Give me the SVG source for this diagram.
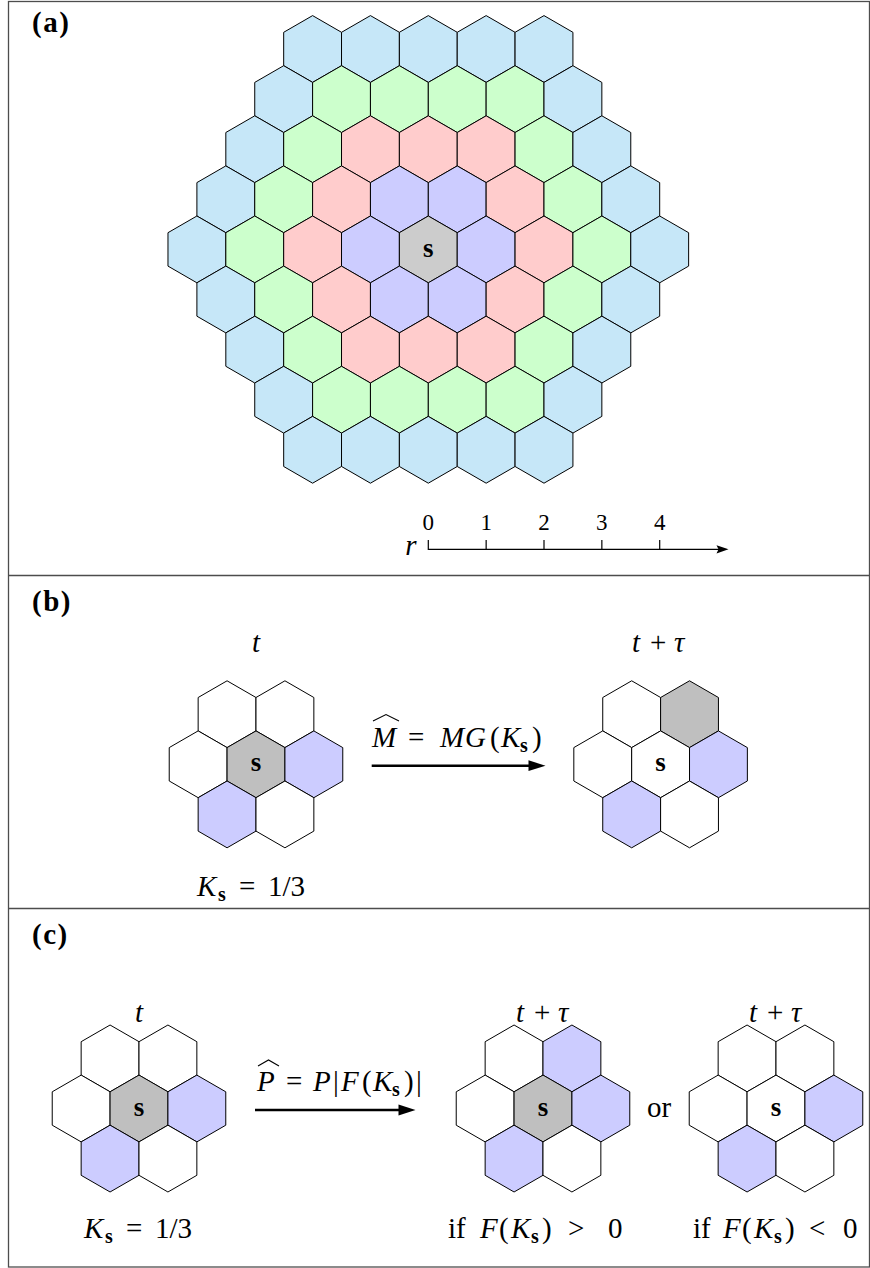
<svg xmlns="http://www.w3.org/2000/svg" width="870" height="1268" viewBox="0 0 870 1268">
<style>
.r4{fill:#c6e7f8}.r3{fill:#ccffcc}.r2{fill:#ffcccc}.r1{fill:#ccccff}.r0{fill:#cccccc}
.w{fill:#ffffff}.g{fill:#bfbfbf}.b{fill:#ccccff}
.frame{fill:none;stroke:#4d4d4d;stroke-width:1.3}
.lab{font-family:"Liberation Serif",serif;font-weight:bold;font-size:29px;letter-spacing:1.5px}
.m{font-family:"Liberation Serif",serif;font-style:italic;font-size:29px;fill:#000}
.rm{font-style:normal}
.sb{font-weight:bold;font-style:normal;font-size:20px}
.s{font-family:"Liberation Serif",serif;font-weight:bold;font-size:27px;text-anchor:middle}
.ax{font-family:"Liberation Serif",serif;font-size:23px;text-anchor:middle}
.hat{fill:none;stroke:#000;stroke-width:1.1}
.thin{stroke:#000;stroke-width:1.2;fill:none}
.thick{stroke:#000;stroke-width:2.6;fill:none}
</style>
<defs>
<polygon id="hx" points="0,-33.4 28.925,-16.7 28.925,16.7 0,33.4 -28.925,16.7 -28.925,-16.7" stroke="#000" stroke-width="1" stroke-linejoin="round"/>
</defs>
<rect class="frame" x="8.5" y="1.5" width="861" height="1265.5"/>
<line class="frame" x1="8.5" y1="575.5" x2="869.5" y2="575.5"/>
<line class="frame" x1="8.5" y1="908.5" x2="869.5" y2="908.5"/>

<g id="panel-a">
<text class="lab" x="32" y="32">(a)</text>
<g id="grid">
<g id="row-4">
<use href="#hx" x="312.6" y="49" class="r4"/><use href="#hx" x="370.45" y="49" class="r4"/><use href="#hx" x="428.3" y="49" class="r4"/><use href="#hx" x="486.15" y="49" class="r4"/><use href="#hx" x="544" y="49" class="r4"/>
</g>
<g id="row-3">
<use href="#hx" x="283.675" y="99.1" class="r4"/><use href="#hx" x="341.525" y="99.1" class="r3"/><use href="#hx" x="399.375" y="99.1" class="r3"/><use href="#hx" x="457.225" y="99.1" class="r3"/><use href="#hx" x="515.075" y="99.1" class="r3"/><use href="#hx" x="572.925" y="99.1" class="r4"/>
</g>
<g id="row-2">
<use href="#hx" x="254.75" y="149.2" class="r4"/><use href="#hx" x="312.6" y="149.2" class="r3"/><use href="#hx" x="370.45" y="149.2" class="r2"/><use href="#hx" x="428.3" y="149.2" class="r2"/><use href="#hx" x="486.15" y="149.2" class="r2"/><use href="#hx" x="544" y="149.2" class="r3"/><use href="#hx" x="601.85" y="149.2" class="r4"/>
</g>
<g id="row-1">
<use href="#hx" x="225.825" y="199.3" class="r4"/><use href="#hx" x="283.675" y="199.3" class="r3"/><use href="#hx" x="341.525" y="199.3" class="r2"/><use href="#hx" x="399.375" y="199.3" class="r1"/><use href="#hx" x="457.225" y="199.3" class="r1"/><use href="#hx" x="515.075" y="199.3" class="r2"/><use href="#hx" x="572.925" y="199.3" class="r3"/><use href="#hx" x="630.775" y="199.3" class="r4"/>
</g>
<g id="row0">
<use href="#hx" x="196.9" y="249.4" class="r4"/><use href="#hx" x="254.75" y="249.4" class="r3"/><use href="#hx" x="312.6" y="249.4" class="r2"/><use href="#hx" x="370.45" y="249.4" class="r1"/><use href="#hx" x="428.3" y="249.4" class="r0"/><use href="#hx" x="486.15" y="249.4" class="r1"/><use href="#hx" x="544" y="249.4" class="r2"/><use href="#hx" x="601.85" y="249.4" class="r3"/><use href="#hx" x="659.7" y="249.4" class="r4"/>
</g>
<g id="row1">
<use href="#hx" x="225.825" y="299.5" class="r4"/><use href="#hx" x="283.675" y="299.5" class="r3"/><use href="#hx" x="341.525" y="299.5" class="r2"/><use href="#hx" x="399.375" y="299.5" class="r1"/><use href="#hx" x="457.225" y="299.5" class="r1"/><use href="#hx" x="515.075" y="299.5" class="r2"/><use href="#hx" x="572.925" y="299.5" class="r3"/><use href="#hx" x="630.775" y="299.5" class="r4"/>
</g>
<g id="row2">
<use href="#hx" x="254.75" y="349.6" class="r4"/><use href="#hx" x="312.6" y="349.6" class="r3"/><use href="#hx" x="370.45" y="349.6" class="r2"/><use href="#hx" x="428.3" y="349.6" class="r2"/><use href="#hx" x="486.15" y="349.6" class="r2"/><use href="#hx" x="544" y="349.6" class="r3"/><use href="#hx" x="601.85" y="349.6" class="r4"/>
</g>
<g id="row3">
<use href="#hx" x="283.675" y="399.7" class="r4"/><use href="#hx" x="341.525" y="399.7" class="r3"/><use href="#hx" x="399.375" y="399.7" class="r3"/><use href="#hx" x="457.225" y="399.7" class="r3"/><use href="#hx" x="515.075" y="399.7" class="r3"/><use href="#hx" x="572.925" y="399.7" class="r4"/>
</g>
<g id="row4">
<use href="#hx" x="312.6" y="449.8" class="r4"/><use href="#hx" x="370.45" y="449.8" class="r4"/><use href="#hx" x="428.3" y="449.8" class="r4"/><use href="#hx" x="486.15" y="449.8" class="r4"/><use href="#hx" x="544" y="449.8" class="r4"/>
</g>
<text class="s" x="428.3" y="256.5">s</text>
</g>
<g id="axis">
<line class="thin" x1="428.3" y1="549.3" x2="720" y2="549.3"/>
<polygon points="728.5,549.3 716.5,545.2 718.5,549.3 716.5,553.4" fill="#000"/>
<line class="thin" x1="428.3" y1="540" x2="428.3" y2="549.9"/>
<line class="thin" x1="486.15" y1="540" x2="486.15" y2="549.3"/>
<line class="thin" x1="544" y1="540" x2="544" y2="549.3"/>
<line class="thin" x1="601.85" y1="540" x2="601.85" y2="549.3"/>
<line class="thin" x1="659.7" y1="540" x2="659.7" y2="549.3"/>
<text class="ax" x="428.3" y="530">0</text>
<text class="ax" x="486.15" y="530">1</text>
<text class="ax" x="544" y="530">2</text>
<text class="ax" x="601.85" y="530">3</text>
<text class="ax" x="659.7" y="530">4</text>
<text class="m" x="411" y="555" text-anchor="middle" font-size="27">r</text>
</g>
</g>

<g id="panel-b">
<text class="lab" x="32" y="611">(b)</text>
<g id="b-left" transform="translate(256,764.3)">
<use href="#hx" x="-28.925" y="-50.1" class="w"/><use href="#hx" x="28.925" y="-50.1" class="w"/>
<use href="#hx" x="-57.85" y="0" class="w"/><use href="#hx" x="0" y="0" class="g"/><use href="#hx" x="57.85" y="0" class="b"/>
<use href="#hx" x="-28.925" y="50.1" class="b"/><use href="#hx" x="28.925" y="50.1" class="w"/>
<text class="s" x="0" y="7">s</text>
</g>
<g id="b-right" transform="translate(660.6,764.3)">
<use href="#hx" x="-28.925" y="-50.1" class="w"/><use href="#hx" x="28.925" y="-50.1" class="g"/>
<use href="#hx" x="-57.85" y="0" class="w"/><use href="#hx" x="0" y="0" class="w"/><use href="#hx" x="57.85" y="0" class="b"/>
<use href="#hx" x="-28.925" y="50.1" class="b"/><use href="#hx" x="28.925" y="50.1" class="w"/>
<text class="s" x="0" y="7">s</text>
</g>
<text class="m" x="256" y="652" text-anchor="middle">t</text>
<text class="m" y="652"><tspan x="632">t</tspan><tspan class="rm" x="650">+</tspan><tspan x="674">τ</tspan></text>
<text class="m" y="896"><tspan x="197">K</tspan><tspan class="sb" x="218" dy="5">s</tspan><tspan class="rm" x="239" dy="-5">=</tspan><tspan class="rm" x="268">1/3</tspan></text>
<g id="b-arrow">
<line class="thick" x1="371.7" y1="765.7" x2="532" y2="765.7"/>
<polygon points="545.5,765.7 528.5,760.3 528.5,771.1" fill="#000"/>
</g>
<text class="m" y="747"><tspan x="372">M</tspan><tspan class="rm" x="408">=</tspan><tspan x="440">M</tspan><tspan x="465">G</tspan><tspan class="rm" x="490">(</tspan><tspan x="501">K</tspan><tspan class="sb" x="520" dy="5">s</tspan><tspan class="rm" x="532" dy="-5">)</tspan></text>
<polyline class="hat" points="373,721 386,714.5 399,721"/>
</g>

<g id="panel-c">
<text class="lab" x="32" y="944">(c)</text>
<g id="c-left" transform="translate(139,1108.5)">
<use href="#hx" x="-28.925" y="-50.1" class="w"/><use href="#hx" x="28.925" y="-50.1" class="w"/>
<use href="#hx" x="-57.85" y="0" class="w"/><use href="#hx" x="0" y="0" class="g"/><use href="#hx" x="57.85" y="0" class="b"/>
<use href="#hx" x="-28.925" y="50.1" class="b"/><use href="#hx" x="28.925" y="50.1" class="w"/>
<text class="s" x="0" y="7">s</text>
</g>
<g id="c-mid" transform="translate(543,1108.5)">
<use href="#hx" x="-28.925" y="-50.1" class="w"/><use href="#hx" x="28.925" y="-50.1" class="b"/>
<use href="#hx" x="-57.85" y="0" class="w"/><use href="#hx" x="0" y="0" class="g"/><use href="#hx" x="57.85" y="0" class="b"/>
<use href="#hx" x="-28.925" y="50.1" class="b"/><use href="#hx" x="28.925" y="50.1" class="w"/>
<text class="s" x="0" y="7">s</text>
</g>
<g id="c-right" transform="translate(776,1108.5)">
<use href="#hx" x="-28.925" y="-50.1" class="w"/><use href="#hx" x="28.925" y="-50.1" class="w"/>
<use href="#hx" x="-57.85" y="0" class="w"/><use href="#hx" x="0" y="0" class="w"/><use href="#hx" x="57.85" y="0" class="b"/>
<use href="#hx" x="-28.925" y="50.1" class="b"/><use href="#hx" x="28.925" y="50.1" class="w"/>
<text class="s" x="0" y="7">s</text>
</g>
<text class="m" x="139" y="1022" text-anchor="middle">t</text>
<text class="m" y="1022"><tspan x="516">t</tspan><tspan class="rm" x="534">+</tspan><tspan x="558">τ</tspan></text>
<text class="m" y="1022"><tspan x="749">t</tspan><tspan class="rm" x="767">+</tspan><tspan x="791">τ</tspan></text>
<g id="c-arrow">
<line class="thick" x1="255" y1="1110" x2="402" y2="1110"/>
<polygon points="415.5,1110 398.5,1104.6 398.5,1115.4" fill="#000"/>
</g>
<text class="m" y="1091"><tspan x="257">P</tspan><tspan class="rm" x="286">=</tspan><tspan x="313">P</tspan><tspan class="rm" x="333">|</tspan><tspan x="341">F</tspan><tspan class="rm" x="362">(</tspan><tspan x="373">K</tspan><tspan class="sb" x="392" dy="5">s</tspan><tspan class="rm" x="404" dy="-5">)</tspan><tspan class="rm" x="416">|</tspan></text>
<polyline class="hat" points="258,1066 268.5,1060 279,1066"/>
<text class="m" x="659" y="1117" text-anchor="middle"><tspan class="rm">or</tspan></text>
<text class="m" y="1238"><tspan x="84">K</tspan><tspan class="sb" x="105" dy="5">s</tspan><tspan class="rm" x="126" dy="-5">=</tspan><tspan class="rm" x="155">1/3</tspan></text>
<text class="m" y="1238"><tspan class="rm" x="448">if</tspan><tspan x="480">F</tspan><tspan class="rm" x="499">(</tspan><tspan x="511">K</tspan><tspan class="sb" x="531" dy="5">s</tspan><tspan class="rm" x="542" dy="-5">)</tspan><tspan class="rm" x="568">&gt;</tspan><tspan class="rm" x="608">0</tspan></text>
<text class="m" y="1238"><tspan class="rm" x="693">if</tspan><tspan x="723">F</tspan><tspan class="rm" x="742">(</tspan><tspan x="754">K</tspan><tspan class="sb" x="774" dy="5">s</tspan><tspan class="rm" x="785" dy="-5">)</tspan><tspan class="rm" x="809">&lt;</tspan><tspan class="rm" x="843">0</tspan></text>
</g>
</svg>
